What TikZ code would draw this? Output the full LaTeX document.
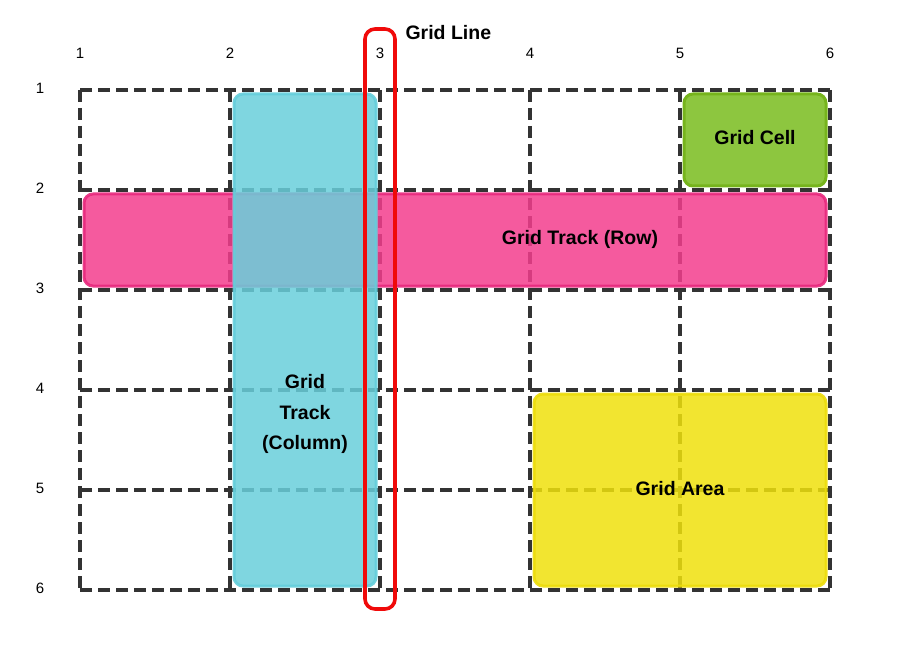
\documentclass[tikz,border=0pt]{standalone}
\usepackage{fontspec}
\setmainfont{Liberation Sans}
\begin{document}
\begin{tikzpicture}[x=1pt,y=-1pt,
  gridline/.style={draw=black!80, line width=3.6pt, dash pattern=on 12pt off 6pt},
  box/.style={rectangle, rounded corners=9pt, line width=3pt, fill opacity=0.85, draw opacity=0.9, inner sep=0pt},
  lbl/.style={font=\fontsize{19.5}{30.5}\selectfont\bfseries, align=center, text=black},
  num/.style={font=\fontsize{15}{17}\selectfont, text=black},
]
\definecolor{cyanfill}{RGB}{105,207,219}
\definecolor{cyanline}{RGB}{100,205,218}
\definecolor{pinkfill}{RGB}{243,61,141}
\definecolor{pinkline}{RGB}{232,40,125}
\definecolor{yelfill}{RGB}{240,225,12}
\definecolor{yelline}{RGB}{236,220,10}
\definecolor{grnfill}{RGB}{141,198,63}
\definecolor{grnline}{RGB}{118,180,28}
\definecolor{redline}{RGB}{240,10,10}
\useasboundingbox (0,0) rectangle (900,650);
% grid lines
\foreach \i in {0,...,5} {
  \coordinate (h\i a) at (80,90+100*\i);
  \coordinate (h\i b) at (830,90+100*\i);
  \coordinate (v\i a) at (80+150*\i,90);
  \coordinate (v\i b) at (80+150*\i,590);
  \draw[gridline] (h\i a) -- (h\i b);
  \draw[gridline] (v\i a) -- (v\i b);
}
% column numbers
\foreach \i/\x in {1/80,2/230,3/380,4/530,5/680,6/830} {
  \node[num] (c\i) at (\x,53) {\i};
}
% row numbers
\foreach \i/\y in {1/88,2/188,3/288,4/388,5/488,6/588} {
  \node[num] (r\i) at (40,\y) {\i};
}
% boxes
\node[box, fill=pinkfill, draw=pinkline, minimum width=742pt, minimum height=92pt] (rowbox) at (455,240) {};
\node[box, fill=cyanfill, draw=cyanline, minimum width=142pt, minimum height=492pt] (colbox) at (305,340) {};
\node[box, fill=yelfill, draw=yelline, minimum width=292pt, minimum height=192pt] (areabox) at (680,490) {};
\node[box, fill=grnfill, draw=grnline, fill opacity=1, draw opacity=1, minimum width=142pt, minimum height=92pt] (cellbox) at (755,140) {};
% labels
\node[lbl] (rowlbl) at (580,239) {Grid Track (Row)};
\node[lbl] (collbl) at (305,414) {Grid\\Track\\(Column)};
\node[lbl] (arealbl) at (680,489) {Grid Area};
\node[lbl] (celllbl) at (755,138) {Grid Cell};
% grid line highlight
\node[rectangle, rounded corners=10pt, draw=redline, line width=3.6pt, minimum width=30pt, minimum height=580pt, inner sep=0pt] (gline) at (380,319) {};
\node[lbl, anchor=west] (glinelbl) at (402,33) {Grid Line};
\end{tikzpicture}
\end{document}
